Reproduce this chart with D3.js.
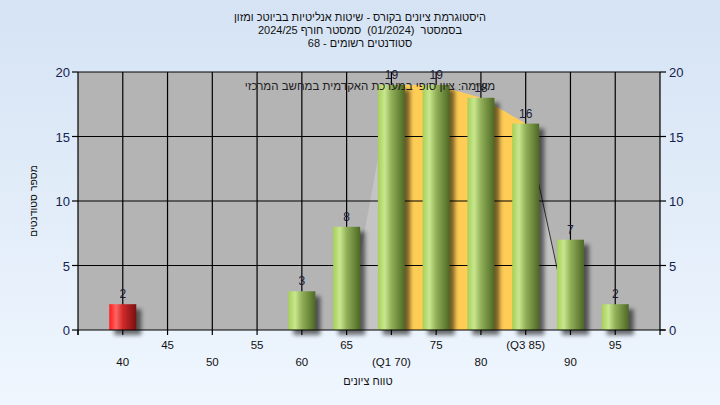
<!DOCTYPE html>
<meta charset="utf-8">
<style>
    body { margin: 0; font-family: "Liberation Sans", Arial, sans-serif; }
    svg text { fill: #111; white-space: pre; }
    .tick-label { fill: #14224f; font-size: 13px; }
    .x-label { fill: #111; font-size: 11.5px; }
</style>
<body>
<script src="https://d3js.org/d3.v7.min.js"></script>
<script>

    // chart data
    var grades = [40, 45, 50, 55, 60, 65, 70, 75, 80, 85, 90, 95];
    var counts = [2, 0, 0, 0, 3, 8, 19, 19, 18, 16, 7, 2];
    var gradeLabels = ["40", "45", "50", "55", "60", "65", "(Q1 70)", "75", "80", "(Q3 85)", "90", "95"];
    var failGrades = [40];
    // area between the quartiles (with zero ends at the neighbours)
    var areaGrades = [65, 70, 75, 80, 85, 90];
    var areaValues = [0, 19, 19, 18, 16, 0];
    var q1 = 70, q3 = 85;
    var yTicks = [0, 5, 10, 15, 20];

    var titleLines = [
        "היסטוגרמת ציונים בקורס - שיטות אנליטיות בביוטכ ומזון",
        "בסמסטר  (01/2024)  סמסטר חורף 2024/25",
        "סטודנטים רשומים - 68"
    ];
    var note = "משימה: ציון סופי במערכת האקדמית במחשב המרכזי";

    var W = 720, H = 405;
    var plot = {left: 78, right: 660, top: 72, bottom: 330};

    var x = d3.scaleLinear().domain([35, 100]).range([plot.left, plot.right]);
    var y = d3.scaleLinear().domain([0, 20]).range([plot.bottom, plot.top]);
    var barW = 27;

    var svg = d3.select("body").append("svg")
        .attr("width", W)
        .attr("height", H);

    var defs = svg.append("defs");

    var bg = defs.append("linearGradient").attr("id", "bg")
        .attr("x1", 0).attr("y1", 0).attr("x2", 0).attr("y2", 1);
    bg.append("stop").attr("offset", 0).attr("stop-color", "#d5e3f4");
    bg.append("stop").attr("offset", 1).attr("stop-color", "#eff6fe");

    function barGradient(id, stops) {
        var g = defs.append("linearGradient").attr("id", id)
            .attr("x1", 0).attr("y1", 0).attr("x2", 1).attr("y2", 0);
        stops.forEach(function(s) {
            g.append("stop").attr("offset", s[0]).attr("stop-color", s[1]);
        });
    }
    barGradient("green", [[0, "#a6cf58"], [0.25, "#c8e78e"], [0.5, "#91b058"], [1, "#4d6824"]]);
    barGradient("red", [[0, "#ff1a1a"], [0.25, "#ff6464"], [0.5, "#d02a2a"], [1, "#7a1010"]]);

    var blur = defs.append("filter").attr("id", "shadow")
        .attr("x", "-50%").attr("y", "-50%").attr("width", "200%").attr("height", "200%");
    blur.append("feGaussianBlur").attr("stdDeviation", 2.2);

    svg.append("rect").attr("width", W).attr("height", H).attr("fill", "url(#bg)");

    // titles
    svg.append("g").selectAll("text")
        .data(titleLines)
        .enter().append("text")
        .attr("x", W / 2)
        .attr("y", function(d, i) { return 21 + i * 13; })
        .attr("text-anchor", "middle")
        .attr("direction", "rtl")
        .style("font-size", "11px")
        .text(function(d) { return d; });

    // plot background
    svg.append("rect")
        .attr("x", plot.left).attr("y", plot.top)
        .attr("width", plot.right - plot.left).attr("height", plot.bottom - plot.top)
        .attr("fill", "#b4b4b4");

    // quartile area
    var areaData = areaGrades.map(function(g, i) { return {g: g, v: areaValues[i]}; });
    var area = d3.area()
        .x(function(d) { return x(d.g); })
        .y0(y(0))
        .y1(function(d) { return y(d.v); });

    svg.append("path")
        .datum(areaData)
        .attr("d", area)
        .attr("fill", "#c4c4c4");

    svg.append("path")
        .datum(areaData.filter(function(d) { return d.g >= q1 && d.g <= q3; }))
        .attr("d", area)
        .attr("fill", "#ffcc55");

    svg.append("path")
        .datum(areaData.filter(function(d) { return d.g >= q3; }))
        .attr("d", d3.line().x(function(d) { return x(d.g); }).y(function(d) { return y(d.v); }))
        .attr("fill", "none")
        .attr("stroke", "#333")
        .attr("stroke-width", 1);

    // grid
    var grid = svg.append("g").attr("stroke", "#000").attr("stroke-width", 1.2);
    grid.selectAll("line.h")
        .data(yTicks.slice(1))
        .enter().append("line")
        .attr("x1", plot.left).attr("x2", plot.right)
        .attr("y1", function(d) { return y(d); }).attr("y2", function(d) { return y(d); });
    grid.selectAll("line.v")
        .data(grades)
        .enter().append("line")
        .attr("y1", plot.top).attr("y2", plot.bottom)
        .attr("x1", function(d) { return x(d); }).attr("x2", function(d) { return x(d); });
    grid.append("line")
        .attr("x1", plot.right).attr("x2", plot.right)
        .attr("y1", plot.top).attr("y2", plot.bottom);

    // bars
    var bars = grades.map(function(g, i) { return {g: g, v: counts[i], label: gradeLabels[i]}; })
        .filter(function(d) { return d.v > 0; });

    svg.append("g").selectAll("rect")
        .data(bars)
        .enter().append("rect")
        .attr("x", function(d) { return x(d.g) - barW / 2 + 5; })
        .attr("y", function(d) { return y(d.v) + 5; })
        .attr("width", barW)
        .attr("height", function(d) { return y(0) - y(d.v); })
        .attr("fill", "#000")
        .attr("opacity", 0.55)
        .attr("filter", "url(#shadow)");

    svg.append("g").selectAll("rect")
        .data(bars)
        .enter().append("rect")
        .attr("x", function(d) { return x(d.g) - barW / 2; })
        .attr("y", function(d) { return y(d.v); })
        .attr("width", barW)
        .attr("height", function(d) { return y(0) - y(d.v); })
        .attr("fill", function(d) { return failGrades.indexOf(d.g) >= 0 ? "url(#red)" : "url(#green)"; });

    // axes lines
    var axes = svg.append("g").attr("stroke", "#000").attr("stroke-width", 1.2);
    axes.append("line").attr("x1", plot.left).attr("x2", plot.left).attr("y1", plot.top).attr("y2", plot.bottom + 5);
    axes.append("line").attr("x1", plot.left).attr("x2", plot.right + 5).attr("y1", plot.bottom).attr("y2", plot.bottom);
    axes.selectAll("line.yt")
        .data(yTicks)
        .enter().append("line")
        .attr("x1", plot.left - 6).attr("x2", plot.left)
        .attr("y1", function(d) { return y(d); }).attr("y2", function(d) { return y(d); });
    axes.selectAll("line.yr")
        .data(yTicks)
        .enter().append("line")
        .attr("x1", plot.right).attr("x2", plot.right + 6)
        .attr("y1", function(d) { return y(d); }).attr("y2", function(d) { return y(d); });
    axes.selectAll("line.xt")
        .data([35].concat(grades).concat([100]))
        .enter().append("line")
        .attr("x1", function(d) { return x(d); }).attr("x2", function(d) { return x(d); })
        .attr("y1", plot.bottom).attr("y2", plot.bottom + 5);

    // y tick labels, both sides
    svg.append("g").selectAll("text")
        .data(yTicks)
        .enter().append("text")
        .attr("class", "tick-label")
        .attr("x", plot.left - 8)
        .attr("y", function(d) { return y(d) + 5; })
        .attr("text-anchor", "end")
        .text(function(d) { return d; });
    svg.append("g").selectAll("text")
        .data(yTicks)
        .enter().append("text")
        .attr("class", "tick-label")
        .attr("x", plot.right + 9)
        .attr("y", function(d) { return y(d) + 5; })
        .text(function(d) { return d; });

    // x labels in two rows
    svg.append("g").selectAll("text")
        .data(gradeLabels)
        .enter().append("text")
        .attr("class", "x-label")
        .attr("x", function(d, i) { return x(grades[i]); })
        .attr("y", function(d, i) { return i % 2 ? 349 : 366; })
        .attr("text-anchor", "middle")
        .text(function(d) { return d; });

    // value labels
    svg.append("g").selectAll("text")
        .data(bars)
        .enter().append("text")
        .attr("x", function(d) { return x(d.g); })
        .attr("y", function(d) { return y(d.v) - 6; })
        .attr("text-anchor", "middle")
        .style("font-size", "12px")
        .style("fill", "#1a1a33")
        .text(function(d) { return d.v; });

    // note inside the plot
    svg.append("text")
        .attr("x", 370)
        .attr("y", 90)
        .attr("text-anchor", "middle")
        .attr("direction", "rtl")
        .style("font-size", "11.5px")
        .style("fill", "#222")
        .text(note);

    // axis titles
    svg.append("text")
        .attr("x", 368)
        .attr("y", 385)
        .attr("text-anchor", "middle")
        .attr("direction", "rtl")
        .style("font-size", "11px")
        .text("טווח ציונים");

    svg.append("text")
        .attr("transform", "translate(37," + (plot.top + plot.bottom) / 2 + ") rotate(-90)")
        .attr("text-anchor", "middle")
        .attr("direction", "rtl")
        .style("font-size", "10.5px")
        .text("מספר סטודנטים");

</script>
